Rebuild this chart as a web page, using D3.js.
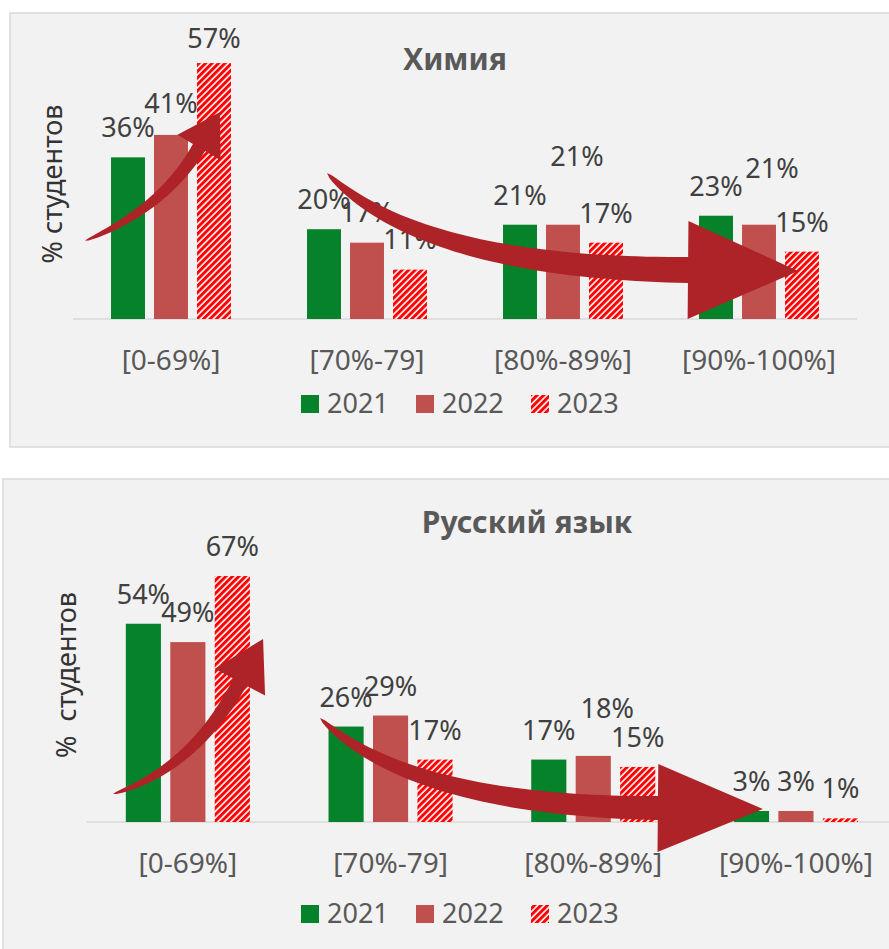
<!DOCTYPE html>
<html>
<head>
<meta charset="utf-8">
<script src="https://cdn.jsdelivr.net/npm/d3@7"></script>
<style>
  body { margin: 0; background: #fff; }
  svg { display: block; }
  text { font-family: "Noto Sans", "Open Sans", sans-serif; }
</style>
</head>
<body>
<svg width="889" height="949"></svg>
<script>
// data
var categories = ["[0-69%]", "[70%-79]", "[80%-89%]", "[90%-100%]"];
var years = ["2021", "2022", "2023"];

var chem2021 = [0.36, 0.20, 0.21, 0.23];
var chem2022 = [0.41, 0.17, 0.21, 0.21];
var chem2023 = [0.57, 0.11, 0.17, 0.15];

var rus2021 = [0.54, 0.26, 0.17, 0.03];
var rus2022 = [0.49, 0.29, 0.18, 0.03];
var rus2023 = [0.67, 0.17, 0.15, 0.01];

var svg = d3.select("svg");

var colors = ["#06832a", "#c0504d", "url(#hatch)"];
var arrowColor = "#ad2327";

// hatch pattern for 2023
var defs = svg.append("defs");
var pat = defs.append("pattern")
  .attr("id", "hatch")
  .attr("patternUnits", "userSpaceOnUse")
  .attr("width", 4.6)
  .attr("height", 4.6)
  .attr("patternTransform", "rotate(45)");
pat.append("rect").attr("width", 4.6).attr("height", 4.6).attr("fill", "#fff");
pat.append("rect").attr("width", 3).attr("height", 4.6).attr("fill", "#ff0000");

// layout of the two charts (arrows given as [group index, value] points)
var charts = [
  {
    title: "Химия", ylabel: "% студентов",
    series: [chem2021, chem2022, chem2023],
    panel: [10, 13, 900, 434],
    x0: 73, x1: 857, base: 319, ymax: 0.6, ytop: 49.6,
    titleX: 455, titleY: 70, ylabX: 62, ylabY: 184,
    legendY: 404, legendX: [301, 416, 531],
    nudge: { "0-1": [0, -2], "0-2": [0, 5], "1-1": [0, -1], "1-2": [0, -1], "2-1": [14, -39], "3-1": [13, -27] },
    arrows: [
      { pts: [[0.061, 0.174], [0.458, 0.245], [0.643, 0.382]], w: 14, hb: 50, hl: 41 },
      { pts: [[1.296, 0.325], [1.770, 0.114], [3.138, 0.109]], w: 26, hb: 98, hl: 110 }
    ]
  },
  {
    title: "Русский язык", ylabel: "%  студентов",
    series: [rus2021, rus2022, rus2023],
    panel: [3, 479, 900, 500],
    x0: 86.5, x1: 897.3, base: 822, ymax: 0.7, ytop: 565,
    titleX: 527, titleY: 533, ylabX: 76, ylabY: 675,
    legendY: 914, legendX: [301, 416, 531],
    nudge: { "2-1": [14, -18] },
    arrows: [
      { pts: [[0.131, 0.076], [0.529, 0.146], [0.757, 0.381]], w: 15, hb: 57, hl: 49 },
      { pts: [[1.152, 0.283], [1.596, 0.044], [2.819, 0.038]], w: 24, hb: 88, hl: 105 }
    ]
  }
];

function arrowPath(p0, c, p2, wEnd, headBase, headLen) {
  var left = [], right = [], n = 50;
  for (var k = 0; k <= n; k++) {
    var t = k / n, mt = 1 - t;
    var x = mt * mt * p0[0] + 2 * mt * t * c[0] + t * t * p2[0];
    var y = mt * mt * p0[1] + 2 * mt * t * c[1] + t * t * p2[1];
    var dx = 2 * mt * (c[0] - p0[0]) + 2 * t * (p2[0] - c[0]);
    var dy = 2 * mt * (c[1] - p0[1]) + 2 * t * (p2[1] - c[1]);
    var len = Math.hypot(dx, dy);
    var nx = -dy / len, ny = dx / len;
    var w = wEnd * Math.sqrt(t) / 2;
    left.push([x + nx * w, y + ny * w]);
    right.push([x - nx * w, y - ny * w]);
  }
  var ex = p2[0] - c[0], ey = p2[1] - c[1], el = Math.hypot(ex, ey);
  ex /= el; ey /= el;
  var hx = -ey, hy = ex;
  var head = [
    [p2[0] + hx * headBase / 2, p2[1] + hy * headBase / 2],
    [p2[0] + ex * headLen, p2[1] + ey * headLen],
    [p2[0] - hx * headBase / 2, p2[1] - hy * headBase / 2]
  ];
  return d3.line()(left.concat(head, right.reverse())) + "Z";
}

charts.forEach(function (ch) {
  var g = svg.append("g");

  g.append("rect")
    .attr("x", ch.panel[0]).attr("y", ch.panel[1])
    .attr("width", ch.panel[2]).attr("height", ch.panel[3])
    .attr("fill", "#f2f2f2")
    .attr("stroke", "#d9d9d9")
    .attr("stroke-width", 1.5);

  var x = d3.scaleBand().domain(categories)
    .range([ch.x0, ch.x1])
    .paddingInner(0.388).paddingOuter(0.194);
  var xs = d3.scaleBand().domain(years)
    .range([0, x.bandwidth()])
    .paddingInner(0.21);
  var y = d3.scaleLinear().domain([0, ch.ymax]).range([ch.base, ch.ytop]);
  var xi = d3.scaleLinear().domain([0, categories.length]).range([ch.x0, ch.x1]);

  // title
  g.append("text")
    .attr("x", ch.titleX).attr("y", ch.titleY)
    .attr("text-anchor", "middle")
    .attr("font-size", 30).attr("font-weight", "bold")
    .attr("fill", "#595959")
    .text(ch.title);

  // y axis title
  g.append("text")
    .attr("transform", "translate(" + ch.ylabX + "," + ch.ylabY + ") rotate(-90)")
    .attr("text-anchor", "middle")
    .attr("font-size", 27)
    .attr("fill", "#333")
    .style("white-space", "pre")
    .text(ch.ylabel);

  // baseline
  g.append("line")
    .attr("x1", ch.x0).attr("x2", ch.x1)
    .attr("y1", ch.base).attr("y2", ch.base)
    .attr("stroke", "#d9d9d9").attr("stroke-width", 1.5);

  // x axis labels
  var xAxis = d3.axisBottom(x).tickSize(0).tickPadding(0);
  var ax = g.append("g").attr("transform", "translate(0," + ch.base + ")").call(xAxis);
  ax.select(".domain").remove();
  ax.selectAll("text")
    .attr("y", 51).attr("dy", null)
    .attr("font-size", 28)
    .attr("font-family", null)
    .attr("fill", "#595959");

  // bars
  ch.series.forEach(function (vals, s) {
    var rows = vals.map(function (v, i) { return { cat: categories[i], v: v, i: i }; });
    g.append("g").selectAll("rect")
      .data(rows)
      .enter().append("rect")
      .attr("x", function (d) { return x(d.cat) + xs(years[s]); })
      .attr("y", function (d) { return y(d.v); })
      .attr("width", xs.bandwidth())
      .attr("height", function (d) { return ch.base - y(d.v); })
      .attr("fill", colors[s]);

    g.append("g").selectAll("text")
      .data(rows)
      .enter().append("text")
      .attr("x", function (d) {
        var nd = ch.nudge[d.i + "-" + s] || [0, 0];
        return x(d.cat) + xs(years[s]) + xs.bandwidth() / 2 + nd[0];
      })
      .attr("y", function (d) {
        var nd = ch.nudge[d.i + "-" + s] || [0, 0];
        return y(d.v) - 20 + nd[1];
      })
      .attr("text-anchor", "middle")
      .attr("font-size", 27)
      .attr("fill", "#404040")
      .text(function (d) { return Math.round(d.v * 100) + "%"; });
  });

  // legend
  years.forEach(function (yr, s) {
    g.append("rect")
      .attr("x", ch.legendX[s]).attr("y", ch.legendY - 9)
      .attr("width", 18).attr("height", 18)
      .attr("fill", colors[s]);
    g.append("text")
      .attr("x", ch.legendX[s] + 26).attr("y", ch.legendY + 9)
      .attr("font-size", 27)
      .attr("fill", "#595959")
      .text(yr);
  });

  // trend arrows
  ch.arrows.forEach(function (a) {
    var p = a.pts.map(function (q) { return [xi(q[0]), y(q[1])]; });
    g.append("path")
      .attr("d", arrowPath(p[0], p[1], p[2], a.w, a.hb, a.hl))
      .attr("fill", arrowColor);
  });
});
</script>
</body>
</html>
